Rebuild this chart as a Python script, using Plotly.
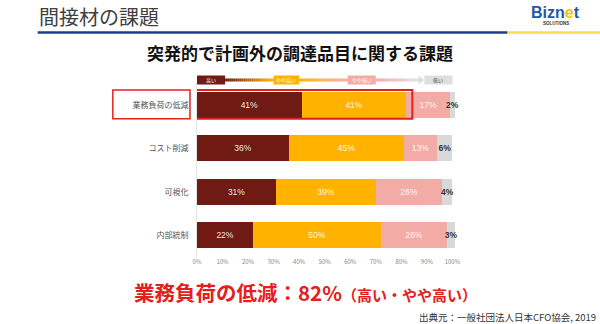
import plotly.graph_objects as go

# ---- data ----
categories = ["業務負荷の低減", "コスト削減", "可視化", "内部統制"]
high = [41, 36, 31, 22]
mid_high = [41, 45, 39, 50]
mid_low = [17, 13, 26, 26]
low = [2, 6, 4, 3]
levels = ["高い", "やや高い", "やや低い", "低い"]
x_tick_vals = [0, 10, 20, 30, 40, 50, 60, 70, 80, 90, 100]
x_tick_text = ["0%", "10%", "20%", "30%", "40%", "50%", "60%", "70%", "80%", "90%", "100%"]

page_title = "間接材の課題"
chart_title = "突発的で計画外の調達品目に関する課題"
summary_main = "業務負荷の低減：82%"
summary_sub = "（高い・やや高い）"
source_text = "出典元：一般社団法人日本CFO協会, 2019"

# ---- style ----
FONT = "Noto Sans CJK JP"
C_HIGH = "#6f1a12"
C_MH = "#ffb300"
C_ML = "#f3aba6"
C_LOW = "#d9d9d9"
RED = "#e3201c"

W, H = 600, 324
X_MAX = 101
L, T, B = 197, 83, 67
PW = 255 * X_MAX / 100
R = W - L - PW
PH = H - T - B


def px2x(px):
    return (px - L) / PW


def py2y(py):
    return (H - B - py) / PH


fig = go.Figure()
series = [
    (levels[0], high, C_HIGH, "rgba(255,255,255,0.92)", False),
    (levels[1], mid_high, C_MH, "rgba(255,255,255,0.92)", False),
    (levels[2], mid_low, C_ML, "rgba(255,255,255,0.92)", False),
    (levels[3], low, C_LOW, "#333333", True),
]
for name, vals, col, tcol, bold in series:
    labels = [("<b>%d%%</b>" if bold else "%d%%") % v for v in vals]
    fig.add_trace(go.Bar(
        y=categories, x=vals, name=name, orientation="h",
        marker=dict(color=col, line=dict(width=0)),
        text=labels, textposition="inside", insidetextanchor="middle",
        textangle=0, constraintext="none", cliponaxis=False,
        textfont=dict(family="Liberation Sans", size=8.5, color=tcol),
        hoverinfo="skip",
    ))

shapes = []
annotations = []

# header separator line
shapes.append(dict(type="line", xref="paper", yref="paper", x0=px2x(38), x1=px2x(507),
                   y0=py2y(32.5), y1=py2y(32.5), line=dict(color="#1f3c88", width=2.5)))
shapes.append(dict(type="line", xref="paper", yref="paper", x0=px2x(507), x1=px2x(600),
                   y0=py2y(32.5), y1=py2y(32.5), line=dict(color="#f2e14c", width=2.5)))

# legend scale (boxes, gradient arrow)
box_y0, box_y1 = py2y(84.5), py2y(75.5)
line_y0, line_y1 = py2y(81.5), py2y(78.5)
boxes = [(0, 11, C_HIGH, "white"), (30, 40, C_MH, "white"), (59, 70, C_ML, "white"), (89, 100, "#dedede", "#444444")]


def hex2rgb(h):
    h = h.lstrip("#")
    return tuple(int(h[i:i + 2], 16) for i in (0, 2, 4))


def mix(c1, c2, t):
    a, b = hex2rgb(c1), hex2rgb(c2)
    return "rgb(%d,%d,%d)" % tuple(round(a[i] + (b[i] - a[i]) * t) for i in range(3))


grad = [(11, 30, C_HIGH, C_MH), (40, 59, C_MH, C_ML), (70, 87, C_ML, "#e0e0e0")]
N = 24
for xa, xb, ca, cb in grad:
    step = (xb - xa) / N
    for i in range(N):
        shapes.append(dict(type="rect", xref="x", yref="paper", x0=xa + i * step, x1=xa + (i + 1) * step + 0.05,
                           y0=line_y0, y1=line_y1, fillcolor=mix(ca, cb, (i + 0.5) / N), line=dict(width=0), layer="above"))
# arrow head
shapes.append(dict(type="path", xref="x", yref="paper",
                   path="M 86.8 %f L 88.9 %f L 86.8 %f Z" % (py2y(84.5), py2y(80), py2y(75.5)),
                   fillcolor="#dcdcdc", line=dict(width=0)))
for (xa, xb, col, tcol), lab in zip(boxes, levels):
    shapes.append(dict(type="rect", xref="x", yref="paper", x0=xa, x1=xb, y0=box_y0, y1=box_y1,
                       fillcolor=col, line=dict(width=0)))
    annotations.append(dict(xref="x", yref="paper", x=(xa + xb) / 2, y=(box_y0 + box_y1) / 2, text=lab,
                            showarrow=False, font=dict(family=FONT, size=5, color=tcol),
                            xanchor="center", yanchor="middle"))

# red highlight boxes
shapes.append(dict(type="rect", xref="paper", yref="y", x0=px2x(113), x1=px2x(190), y0=-0.34, y1=0.32,
                   line=dict(color=RED, width=1.5), fillcolor="rgba(0,0,0,0)"))
shapes.append(dict(type="rect", xref="x", yref="y", x0=-1.2, x1=high[0] + mid_high[0] + 2.3, y0=-0.34, y1=0.32,
                   line=dict(color=RED, width=2), fillcolor="rgba(0,0,0,0)", layer="above"))

# texts
annotations.append(dict(xref="paper", yref="paper", x=px2x(37), y=py2y(16), text=page_title, showarrow=False,
                        xanchor="left", yanchor="middle", font=dict(family=FONT, size=20, color="#404040")))
annotations.append(dict(xref="paper", yref="paper", x=px2x(555), y=py2y(12),
                        text="<b>Bizn<span style='color:#f5c400'>e</span>t</b>", showarrow=False,
                        xanchor="center", yanchor="middle", font=dict(family="Liberation Sans", size=16, color="#1e5aa8")))
annotations.append(dict(xref="paper", yref="paper", x=px2x(555), y=py2y(23.5), text="<b>SOLUTIONS</b>", showarrow=False,
                        xanchor="center", yanchor="middle", font=dict(family="Liberation Sans", size=4.5, color="#333333")))
annotations.append(dict(xref="paper", yref="paper", x=px2x(300), y=py2y(52), text="<b>" + chart_title + "</b>",
                        showarrow=False, xanchor="center", yanchor="middle", font=dict(family=FONT, size=17, color="#111111")))
annotations.append(dict(xref="paper", yref="paper", x=px2x(132), y=py2y(292),
                        text="<b>" + summary_main + "<span style='font-size:15px'>" + summary_sub + "</span></b>",
                        showarrow=False, xanchor="left", yanchor="middle", font=dict(family=FONT, size=20.5, color=RED)))
annotations.append(dict(xref="paper", yref="paper", x=px2x(597), y=py2y(316.5), text=source_text, showarrow=False,
                        xanchor="right", yanchor="middle", font=dict(family=FONT, size=9.5, color="#333333")))

fig.update_layout(
    width=W, height=H, margin=dict(l=L, r=R, t=T, b=B, autoexpand=False),
    barmode="stack", bargap=0.4, showlegend=False,
    plot_bgcolor="white", paper_bgcolor="white",
    xaxis=dict(range=[0, X_MAX], tickvals=x_tick_vals, ticktext=x_tick_text, showgrid=False, zeroline=False,
               tickfont=dict(family=FONT, size=6, color="#888888"), ticks="", fixedrange=True),
    yaxis=dict(type="category", autorange="reversed", showgrid=False, zeroline=False, showline=True,
               linecolor="#e6e6e6", linewidth=1, ticks="", ticklabelstandoff=6,
               tickfont=dict(family=FONT, size=8, color="#555555")),
    shapes=shapes, annotations=annotations,
    font=dict(family=FONT),
)

fig.write_html("out.html")
